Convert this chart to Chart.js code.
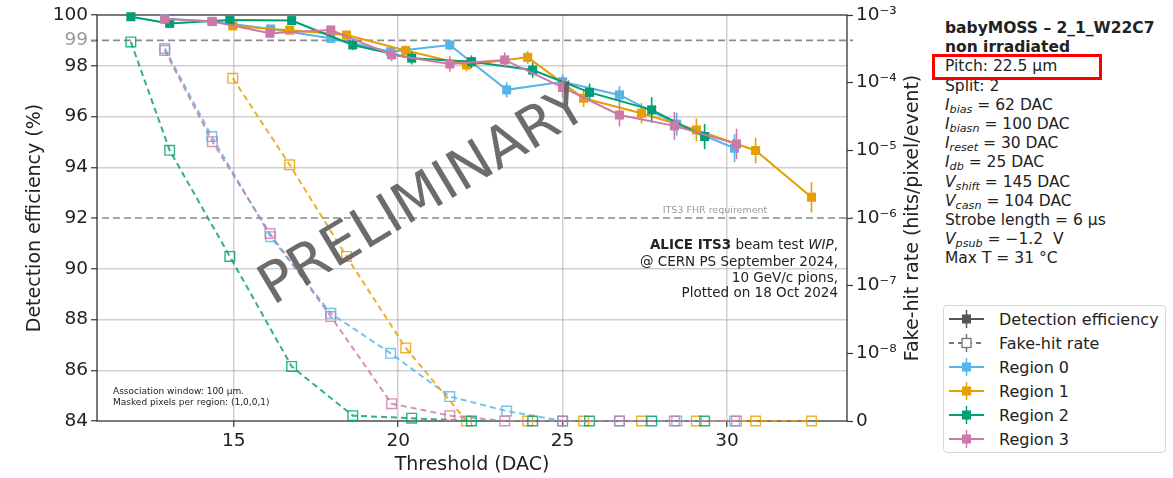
<!DOCTYPE html>
<html>
<head>
<meta charset="utf-8">
<script src="https://cdn.jsdelivr.net/npm/chart.js@4.4.0/dist/chart.umd.min.js"></script>
<style>
  body { margin: 0; background: #fff; font-family: 'DejaVu Sans', sans-serif; color: #222; }
  #wrap { position: relative; width: 1173px; height: 478px; overflow: hidden; }
  #plot { position: absolute; left: 0; top: 0; width: 940px; height: 478px; }
  #info { position: absolute; left: 945px; top: 19px; font-size: 15.5px; line-height: 19.2px; white-space: nowrap; }
  #info sub { font-size: 72%; vertical-align: -0.28em; line-height: 0; }
  #pitchBox { position: absolute; left: 932px; top: 54px; width: 164px; height: 20px; border: 3px solid #ff0000; }
  #legend { position: absolute; left: 943px; top: 305px; width: 223px; height: 148px; border: 1px solid #d6d6d6; border-radius: 4px; padding-top: 1px; box-sizing: border-box; }
  .li { height: 24px; display: flex; align-items: center; font-size: 16px; white-space: nowrap; }
  .li svg { margin-left: 4px; margin-right: 14px; }
</style>
</head>
<body>
<div id="wrap">
  <div id="plot"><canvas id="chart"></canvas></div>

  <div id="info">
    <b>babyMOSS – 2_1_W22C7</b><br>
    <b>non irradiated</b><br>
    Pitch: 22.5 µm<br>
    Split: 2<br>
    <i>I</i><sub><i>bias</i></sub> = 62 DAC<br>
    <i>I</i><sub><i>biasn</i></sub> = 100 DAC<br>
    <i>I</i><sub><i>reset</i></sub> = 30 DAC<br>
    <i>I</i><sub><i>db</i></sub> = 25 DAC<br>
    <i>V</i><sub><i>shift</i></sub> = 145 DAC<br>
    <i>V</i><sub><i>casn</i></sub> = 104 DAC<br>
    Strobe length = 6 µs<br>
    <i>V</i><sub><i>psub</i></sub> = −1.2&nbsp; V<br>
    Max T = 31 °C
  </div>
  <div id="pitchBox"></div>

  <div id="legend"></div>
</div>

<script>
// thresholds (DAC) per region
const thrR0 = [12.90, 14.33, 16.12, 17.95, 19.77, 21.57, 23.30, 25.00, 26.73, 28.47, 30.23];
const thrR1 = [14.97, 16.70, 18.43, 20.23, 22.08, 23.94, 25.64, 27.40, 29.07, 30.87, 32.57];
const thrR2 = [11.87, 13.05, 14.88, 16.76, 18.62, 20.41, 22.23, 24.09, 25.82, 27.71, 29.32];
const thrR3 = [12.90, 14.35, 16.10, 17.95, 19.80, 21.57, 23.24, 25.00, 26.73, 28.40, 30.29];

// detection efficiency (%) and its errors
const effR0 = [99.85, 99.75, 99.45, 99.08, 98.55, 98.82, 97.05, 97.37, 96.85, 95.70, 94.75];
const effR1 = [99.57, 99.40, 99.21, 98.60, 98.03, 98.33, 96.72, 96.13, 95.47, 94.66, 92.82];
const effR2 = [99.93, 99.67, 99.80, 99.78, 98.82, 98.30, 98.16, 97.83, 96.95, 96.26, 95.21];
const effR3 = [99.84, 99.74, 99.28, 99.41, 98.43, 98.07, 98.23, 97.15, 96.06, 95.63, 94.92];
const errR0 = [0.08, 0.10, 0.12, 0.15, 0.20, 0.20, 0.30, 0.30, 0.35, 0.45, 0.55];
const errR1 = [0.10, 0.12, 0.15, 0.20, 0.25, 0.25, 0.35, 0.40, 0.45, 0.50, 0.60];
const errR2 = [0.05, 0.10, 0.10, 0.12, 0.20, 0.25, 0.25, 0.30, 0.35, 0.50, 0.50];
const errR3 = [0.08, 0.10, 0.15, 0.15, 0.25, 0.30, 0.30, 0.40, 0.45, 0.55, 0.60];

// fake-hit rate (hits/pixel/event), 0 = no fake hits
const fhrR0 = [3.2e-4, 1.6e-5, 5.3e-7, 3.9e-8, 1.0e-8, 2.3e-9, 1.4e-9, 0, 0, 0, 0];
const fhrR1 = [1.16e-4, 6.1e-6, 2.7e-7, 1.2e-8, 0, 0, 0, 0, 0, 0, 0];
const fhrR2 = [4.0e-4, 1.0e-5, 2.7e-7, 6.4e-9, 1.2e-9, 1.1e-9, 0, 0, 0, 0, 0];
const fhrR3 = [3.0e-4, 1.34e-5, 5.9e-7, 3.5e-8, 1.8e-9, 1.2e-9, 0, 0, 0, 0, 0];

// axes
const xTicks = [15, 20, 25, 30];
const effTicks = [84, 86, 88, 90, 92, 94, 96, 98, 99, 100];
const fhrTicks = [1e-9, 1e-8, 1e-7, 1e-6, 1e-5, 1e-4, 1e-3];
const fhrTickLabels = ['0', '10⁻⁸', '10⁻⁷', '10⁻⁶', '10⁻⁵', '10⁻⁴', '10⁻³'];
const FHR_ZERO = 1e-9; // bottom of the right axis shows "0"

const regionNames = ['Region 0', 'Region 1', 'Region 2', 'Region 3'];
const colors = ['#56B4E9', '#E69F00', '#009E73', '#CC79A7'];

Chart.defaults.font.family = "'DejaVu Sans', sans-serif";
Chart.defaults.color = '#222';

function effSet(i, xs, ys, errs) {
  return {
    label: regionNames[i] + ' eff',
    data: xs.map((x, k) => ({ x: x, y: ys[k] })),
    errors: errs,
    yAxisID: 'y',
    borderColor: colors[i],
    backgroundColor: colors[i],
    borderWidth: 2,
    pointStyle: 'rect',
    pointRadius: 6.4,
    pointBorderWidth: 0,
    clip: false,
    order: 0
  };
}

function fhrSet(i, xs, ys) {
  return {
    label: regionNames[i] + ' fhr',
    data: xs.map((x, k) => ({ x: x, y: ys[k] > 0 ? ys[k] : FHR_ZERO })),
    yAxisID: 'y2',
    borderColor: colors[i] + 'd0',
    backgroundColor: 'rgba(0,0,0,0)',
    borderWidth: 2,
    borderDash: [6, 4],
    pointStyle: 'rect',
    pointRadius: 6.8,
    pointBorderWidth: 1.4,
    clip: false,
    order: 1
  };
}

const datasets = [
  effSet(3, thrR3, effR3, errR3),
  effSet(2, thrR2, effR2, errR2),
  effSet(1, thrR1, effR1, errR1),
  effSet(0, thrR0, effR0, errR0),
  fhrSet(3, thrR3, fhrR3),
  fhrSet(2, thrR2, fhrR2),
  fhrSet(1, thrR1, fhrR1),
  fhrSet(0, thrR0, fhrR0)
];

// frame, reference lines, error bars, annotations
const decor = {
  id: 'decor',
  beforeDatasetsDraw(chart) {
    const { ctx, chartArea: a, scales } = chart;
    ctx.save();
    ctx.strokeStyle = '#8a8a8a';
    ctx.lineWidth = 1.6;
    ctx.setLineDash([7, 4]);
    [99, 92].forEach(v => {
      const y = scales.y.getPixelForValue(v);
      ctx.beginPath();
      ctx.moveTo(a.left - 6, y);
      ctx.lineTo(a.right + 6, y);
      ctx.stroke();
    });
    ctx.setLineDash([]);
    ctx.strokeStyle = '#333';
    ctx.lineWidth = 1.3;
    ctx.strokeRect(a.left, a.top, a.right - a.left, a.bottom - a.top);
    ctx.restore();
  },
  beforeDatasetDraw(chart, args) {
    const ds = chart.data.datasets[args.index];
    if (!ds.errors) return;
    const { ctx, scales } = chart;
    ctx.save();
    ctx.strokeStyle = ds.borderColor;
    ctx.lineWidth = 1.6;
    args.meta.data.forEach((pt, k) => {
      const v = ds.data[k].y, e = ds.errors[k];
      ctx.beginPath();
      ctx.moveTo(pt.x, scales.y.getPixelForValue(v - e));
      ctx.lineTo(pt.x, scales.y.getPixelForValue(v + e));
      ctx.stroke();
    });
    ctx.restore();
  },
  afterDatasetsDraw(chart) {
    const { ctx, chartArea: a } = chart;
    ctx.save();
    ctx.textBaseline = 'middle';

    ctx.fillStyle = '#9a9a9a';
    ctx.font = "9.5px 'DejaVu Sans'";
    ctx.textAlign = 'center';
    ctx.fillText('ITS3 FHR requirement', a.left + 618, a.top + 196);

    // beam test block, right aligned
    const right = a.left + 741;
    const line1 = [
      ['bold 13.5px', 'ALICE ITS3'],
      ['13.5px', ' beam test '],
      ['italic 13.5px', 'WIP'],
      ['13.5px', ',']
    ];
    ctx.fillStyle = '#222';
    let w = 0;
    line1.forEach(s => { ctx.font = s[0] + " 'DejaVu Sans'"; w += ctx.measureText(s[1]).width; });
    let x = right - w;
    ctx.textAlign = 'left';
    line1.forEach(s => {
      ctx.font = s[0] + " 'DejaVu Sans'";
      ctx.fillText(s[1], x, a.top + 230);
      x += ctx.measureText(s[1]).width;
    });
    ctx.font = "13.5px 'DejaVu Sans'";
    ctx.textAlign = 'right';
    ctx.fillText('@ CERN PS September 2024,', right, a.top + 247);
    ctx.fillText('10 GeV/c pions,', right, a.top + 263);
    ctx.fillText('Plotted on 18 Oct 2024', right, a.top + 278);

    ctx.font = "9px 'DejaVu Sans'";
    ctx.textAlign = 'left';
    ctx.fillText('Association window: 100 µm.', a.left + 16, a.top + 377);
    ctx.fillText('Masked pixels per region: (1,0,0,1)', a.left + 16, a.top + 388);

    // right axis title, reading bottom to top
    ctx.font = "19px 'DejaVu Sans'";
    ctx.textAlign = 'center';
    ctx.translate(a.right + 66, (a.top + a.bottom) / 2);
    ctx.rotate(-Math.PI / 2);
    ctx.fillText('Fake-hit rate (hits/pixel/event)', 0, 0);
    ctx.restore();

    // watermark
    ctx.save();
    ctx.translate(a.left + 327, a.top + 183);
    ctx.rotate(-31 * Math.PI / 180);
    ctx.font = "56px 'DejaVu Sans'";
    ctx.fillStyle = 'rgba(95,95,95,0.92)';
    ctx.textAlign = 'center';
    ctx.textBaseline = 'middle';
    ctx.fillText('PRELIMINARY', 0, 0);
    ctx.restore();
  }
};

new Chart(document.getElementById('chart'), {
  type: 'line',
  data: { datasets: datasets },
  plugins: [decor],
  options: {
    responsive: true,
    maintainAspectRatio: false,
    animation: false,
    layout: { padding: { top: 15, left: 0, right: 0, bottom: 0 } },
    plugins: { legend: { display: false }, tooltip: { enabled: false } },
    scales: {
      x: {
        type: 'linear',
        min: 10.84,
        max: 33.65,
        afterBuildTicks: s => { s.ticks = xTicks.map(v => ({ value: v })); },
        afterFit: s => { s.height = 57; },
        ticks: { font: { size: 18.5 }, color: '#222', padding: 3, autoSkip: false, maxRotation: 0 },
        grid: { color: 'rgba(170,170,170,0.55)', lineWidth: 1.5, tickLength: 6, tickColor: '#333', tickWidth: 1.2 },
        border: { display: false },
        title: { display: true, text: 'Threshold (DAC)', font: { size: 19 }, color: '#222', padding: { top: 0, bottom: 1.5 } }
      },
      y: {
        type: 'linear',
        position: 'left',
        min: 84,
        max: 100,
        afterBuildTicks: s => { s.ticks = effTicks.map(v => ({ value: v })); },
        afterFit: s => { s.width = 97; },
        ticks: {
          font: { size: 18.5 },
          padding: 3,
          autoSkip: false,
          color: c => (c.tick && c.tick.value === 99 ? '#9a9a9a' : '#222')
        },
        grid: {
          color: c => (c.tick && (c.tick.value === 99 || c.tick.value === 92 || c.tick.value === 100 || c.tick.value === 84) ? 'rgba(0,0,0,0)' : 'rgba(170,170,170,0.55)'),
          lineWidth: 1.5,
          tickLength: 6,
          tickColor: '#333',
          tickWidth: 1.2
        },
        border: { display: false },
        title: { display: true, text: 'Detection efficiency (%)', font: { size: 19 }, color: '#222', padding: { top: 23.5, bottom: 0 } }
      },
      y2: {
        type: 'logarithmic',
        position: 'right',
        min: 1e-9,
        max: 1e-3,
        afterBuildTicks: s => { s.ticks = fhrTicks.map(v => ({ value: v })); },
        afterFit: s => { s.width = 93; },
        ticks: {
          font: { size: 18.5 },
          padding: 3,
          autoSkip: false,
          color: '#222',
          callback: v => {
            const k = fhrTicks.findIndex(t => Math.abs(Math.log10(t) - Math.log10(v)) < 1e-6);
            return k >= 0 ? fhrTickLabels[k] : '';
          }
        },
        grid: { drawOnChartArea: false, tickLength: 6, tickColor: '#333', tickWidth: 1.2 },
        border: { display: false }
      }
    }
  }
});

// legend
function handle(color, dashed) {
  const line = dashed
    ? `<line x1="1" y1="10" x2="36" y2="10" stroke="${color}" stroke-width="2" stroke-dasharray="5,4"/>`
    : `<line x1="1" y1="10" x2="36" y2="10" stroke="${color}" stroke-width="2"/>`;
  const mark = dashed
    ? `<rect x="14" y="5.5" width="9" height="9" fill="#fff" stroke="${color}" stroke-width="1.3"/>`
    : `<rect x="14" y="5.5" width="9" height="9" fill="${color}"/>`;
  return `<svg width="37" height="20">${line}<line x1="18.5" y1="1" x2="18.5" y2="19" stroke="${color}" stroke-width="1.5"/>${mark}</svg>`;
}
const legendItems = [
  ['#555555', false, 'Detection efficiency'],
  ['#777777', true, 'Fake-hit rate'],
  [colors[0], false, regionNames[0]],
  [colors[1], false, regionNames[1]],
  [colors[2], false, regionNames[2]],
  [colors[3], false, regionNames[3]]
];
document.getElementById('legend').innerHTML = legendItems
  .map(it => `<div class="li">${handle(it[0], it[1])}<span>${it[2]}</span></div>`)
  .join('');
</script>
</body>
</html>
